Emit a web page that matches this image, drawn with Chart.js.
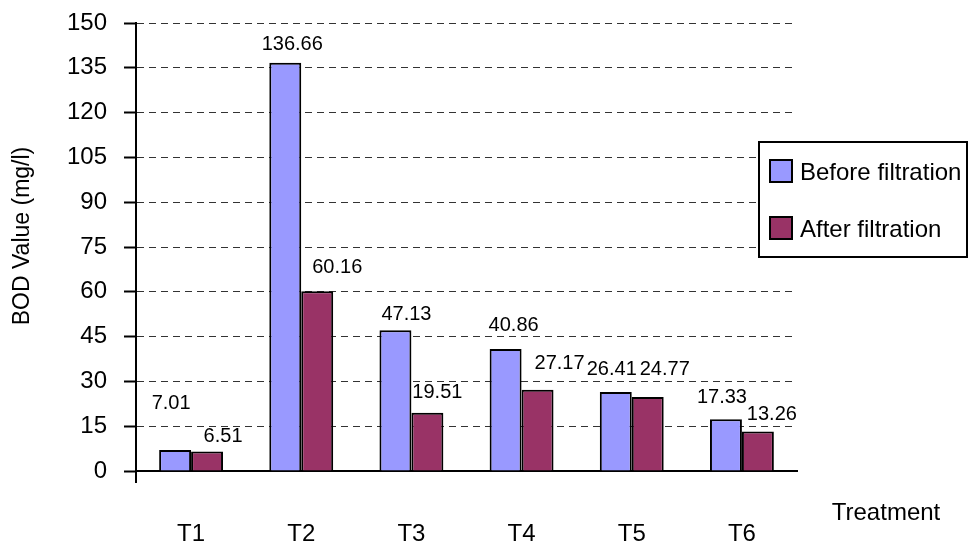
<!DOCTYPE html>
<html>
<head>
<meta charset="utf-8">
<script src="https://cdn.jsdelivr.net/npm/chart.js@4"></script>
<style>
  html, body { margin: 0; padding: 0; background: #fff; }
</style>
</head>
<body>
<canvas id="bodChart" width="968" height="549"></canvas>
<script>
const treatments = ['T1', 'T2', 'T3', 'T4', 'T5', 'T6'];
const beforeFiltration = [7.01, 136.66, 47.13, 40.86, 26.41, 17.33];
const afterFiltration = [6.51, 60.16, 19.51, 27.17, 24.77, 13.26];
const yTicks = [0, 15, 30, 45, 60, 75, 90, 105, 120, 135, 150];

const FONT = '"Liberation Sans", Arial, sans-serif';

// where Excel put each value label, relative to the top centre of its bar
const labelShift = [
  [[-4, -47], [7, -18], [11, -16], [8, -23], [-4, -23], [-4, -22]],
  [[16, -15], [20, -24], [10, -20], [22, -26], [17, -28], [14, -17]]
];

const decor = {
  id: 'decor',
  afterDatasetsDraw(chart) {
    const ctx = chart.ctx;
    ctx.save();
    ctx.font = '20px ' + FONT;
    ctx.fillStyle = '#000';
    ctx.textAlign = 'center';
    ctx.textBaseline = 'middle';
    chart.data.datasets.forEach((ds, i) => {
      chart.getDatasetMeta(i).data.forEach((bar, j) => {
        const s = labelShift[i][j];
        ctx.fillText(ds.data[j].toFixed(2), bar.x + s[0], bar.y + s[1]);
      });
    });
    ctx.restore();
  },
  afterDraw(chart) {
    const ctx = chart.ctx;
    const area = chart.chartArea;
    ctx.save();

    // y axis runs a little below zero
    ctx.strokeStyle = '#000';
    ctx.lineWidth = 2;
    ctx.beginPath();
    ctx.moveTo(area.left, area.bottom);
    ctx.lineTo(area.left, area.bottom + 12);
    ctx.stroke();

    // axis titles
    ctx.fillStyle = '#000';
    ctx.textAlign = 'center';
    ctx.textBaseline = 'middle';
    ctx.font = '24px ' + FONT;
    ctx.fillText('Treatment', 886, 513);

    ctx.save();
    ctx.translate(23, 236);
    ctx.rotate(-Math.PI / 2);
    ctx.font = '23px ' + FONT;
    ctx.fillText('BOD Value (mg/l)', 0, 0);
    ctx.restore();

    // legend box
    ctx.fillStyle = '#fff';
    ctx.fillRect(759, 142, 208, 115);
    ctx.strokeStyle = '#000';
    ctx.lineWidth = 2;
    ctx.strokeRect(759, 142, 208, 115);

    const rows = [171, 228];
    ctx.font = '24px ' + FONT;
    ctx.textAlign = 'left';
    chart.data.datasets.forEach((ds, i) => {
      const y = rows[i];
      ctx.fillStyle = ds.backgroundColor;
      ctx.fillRect(770, y - 11, 22, 22);
      ctx.strokeStyle = '#000';
      ctx.lineWidth = 2;
      ctx.strokeRect(770, y - 11, 22, 22);
      ctx.fillStyle = '#000';
      ctx.fillText(ds.label, 800, y + 2);
    });
    ctx.restore();
  }
};

new Chart(document.getElementById('bodChart'), {
  type: 'bar',
  data: {
    labels: treatments,
    datasets: [
      {
        label: 'Before filtration',
        data: beforeFiltration,
        backgroundColor: '#9999FF',
        borderColor: '#000',
        borderWidth: 2
      },
      {
        label: 'After filtration',
        data: afterFiltration,
        backgroundColor: '#993366',
        borderColor: '#000',
        borderWidth: 2
      }
    ]
  },
  options: {
    responsive: false,
    animation: false,
    datasets: {
      bar: { barPercentage: 1.0, categoryPercentage: 0.58 }
    },
    layout: { padding: { top: 23, right: 171, left: 0, bottom: 0 } },
    plugins: {
      legend: { display: false },
      tooltip: { enabled: false }
    },
    scales: {
      x: {
        grid: { display: false, drawTicks: false },
        border: { display: true, color: '#000', width: 2 },
        ticks: {
          color: '#000',
          padding: 49,
          font: { family: FONT, size: 24 }
        },
        afterFit(scale) {
          scale.height = 78;
          scale.paddingLeft = 0;
          scale.paddingRight = 0;
        }
      },
      y: {
        min: 0,
        max: 150,
        afterBuildTicks(scale) { scale.ticks = yTicks.map(v => ({ value: v })); },
        grid: {
          color: '#333',
          lineWidth: 1,
          tickLength: 12,
          tickColor: '#000',
          tickWidth: 2,
          tickBorderDash: []
        },
        border: { display: true, color: '#000', width: 2, dash: [7, 5] },
        ticks: {
          color: '#000',
          padding: 17,
          font: { family: FONT, size: 24 }
        },
        afterFit(scale) {
          scale.width = 136;
          scale.paddingTop = 0;
          scale.paddingBottom = 0;
        }
      }
    }
  },
  plugins: [decor]
});
</script>
</body>
</html>
